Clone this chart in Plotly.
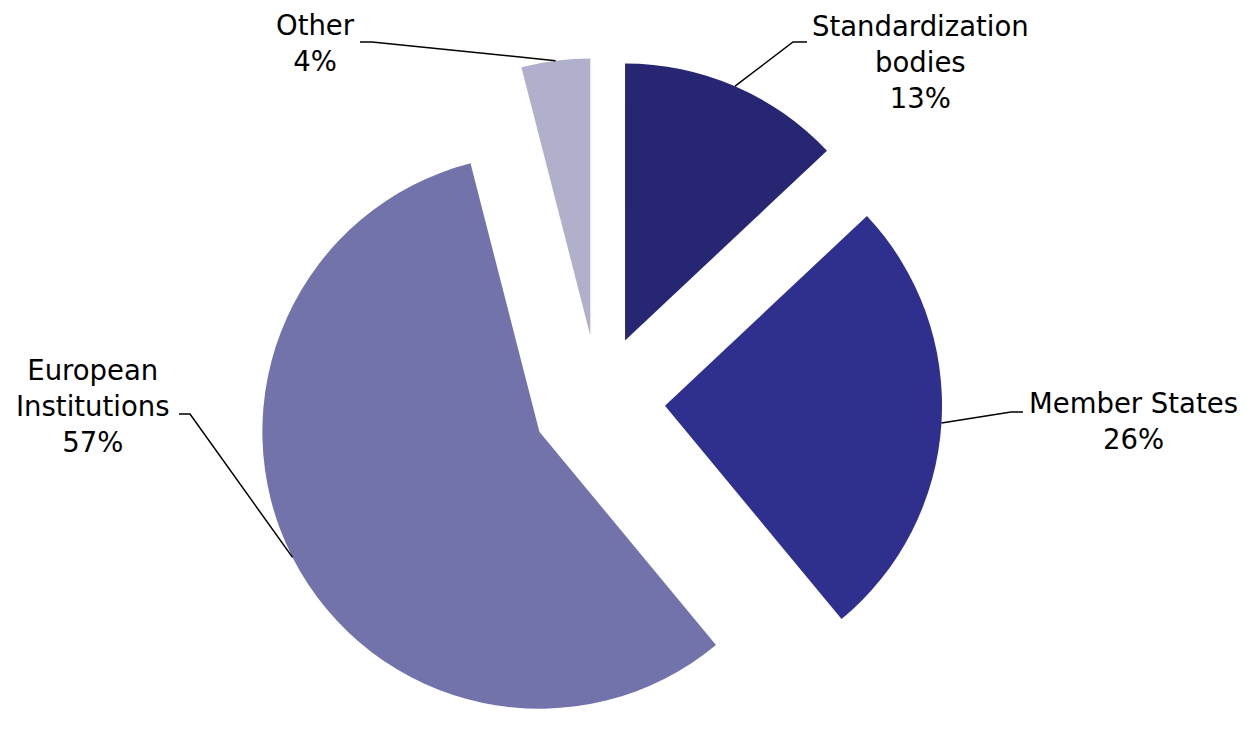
import math
import plotly.graph_objects as go

# ---- data ----
categories = ["Standardization bodies", "Member States", "European Institutions", "Other"]
label_text = ["Standardization<br>bodies", "Member States", "European<br>Institutions", "Other"]
values = [13, 26, 57, 4]
colors = ["#262673", "#2F2F8E", "#7373AB", "#B0B0CC"]

# ---- layout constants ----
W, H = 1245, 737
OFF = 8          # page offset of the plot div (body margin)
PULL = 0.24
DOM_X = [0.0, 0.9488]
DOM_Y = [0.0, 0.9322]
FONT = "DejaVu Sans, Verdana, sans-serif"
FS = 27.5

# label centre positions and leader-line elbow/end, in screen pixels
label_pos = [(920, 62), (1133, 421), (93, 406), (315, 43)]
elbows = [((793, 42), (807, 42)),
          ((1011, 412), (1023, 412)),
          ((190, 414), (179, 414)),
          ((372, 42), (360, 42))]

fig = go.Figure(go.Pie(
    labels=categories,
    values=values,
    sort=False,
    direction="clockwise",
    rotation=0,
    pull=[PULL] * len(values),
    marker=dict(colors=colors, line=dict(width=0)),
    textinfo="none",
    hoverinfo="label+percent",
    domain=dict(x=DOM_X, y=DOM_Y),
    showlegend=False,
))

# geometry of the pie as plotly lays it out (margins are zero), figure pixels
cx = W * (DOM_X[0] + DOM_X[1]) / 2
box_h = H * (DOM_Y[1] - DOM_Y[0])
cy = H * (1 - DOM_Y[0]) - box_h / 2
r = min(W * (DOM_X[1] - DOM_X[0]) / 2, box_h / 2) / (1 + PULL)

def fig2paper(x, y):
    return x / W, 1 - y / H

def scr2paper(x, y):
    return fig2paper(x - OFF, y - OFF)

total = sum(values)
cum = 0
shapes = []
annotations = []
for i, v in enumerate(values):
    mid = (cum + v / 2) / total * 2 * math.pi
    cum += v
    sx = cx + (1 + PULL) * r * math.sin(mid)
    sy = cy - (1 + PULL) * r * math.cos(mid)
    (ex, ey), (tx, ty) = elbows[i]
    p0 = fig2paper(sx, sy)
    p1 = scr2paper(ex, ey)
    p2 = scr2paper(tx, ty)
    shapes.append(dict(
        type="path", xref="paper", yref="paper",
        path=f"M {p0[0]},{p0[1]} L {p1[0]},{p1[1]} L {p2[0]},{p2[1]}",
        line=dict(color="black", width=1.5),
    ))
    lx, ly = scr2paper(*label_pos[i])
    pct = round(v / total * 100)
    annotations.append(dict(
        x=lx, y=ly, xref="paper", yref="paper",
        text=f"{label_text[i]}<br>{pct}%",
        showarrow=False, xanchor="center", yanchor="middle",
        align="center", font=dict(family=FONT, size=FS, color="black"),
    ))

fig.update_layout(
    width=W, height=H,
    margin=dict(l=0, r=0, t=0, b=0),
    paper_bgcolor="white",
    plot_bgcolor="white",
    shapes=shapes,
    annotations=annotations,
    font=dict(family=FONT),
)

fig.write_html("out.html")
